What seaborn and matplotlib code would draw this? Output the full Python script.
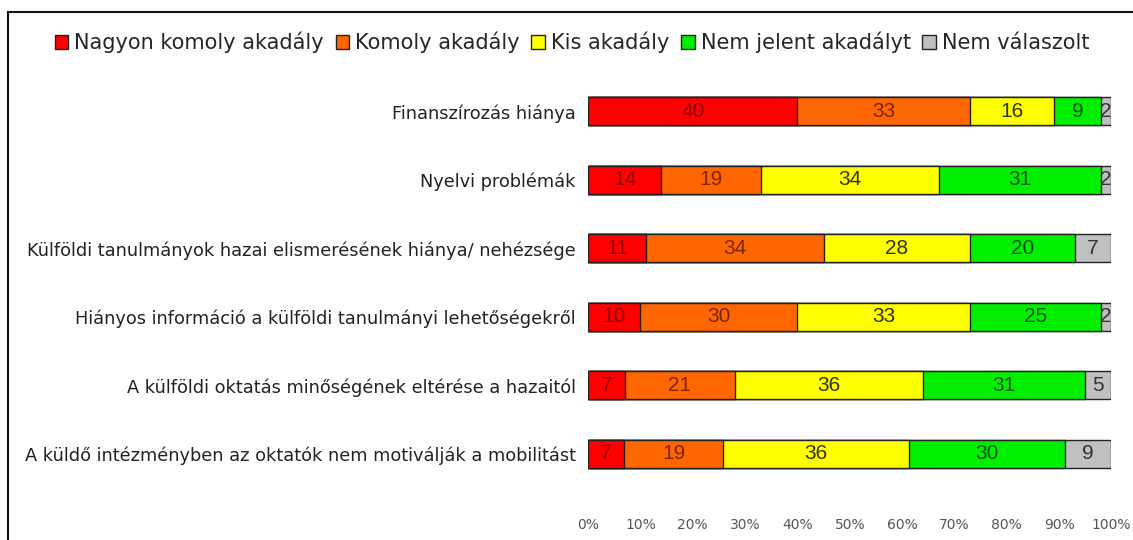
import numpy as np
import pandas as pd
import matplotlib
matplotlib.use('Agg')
import matplotlib.pyplot as plt
from matplotlib.patches import Rectangle, Patch
import seaborn as sns

# akadályok (top to bottom)
categories = ['Finanszírozás hiánya',
              'Nyelvi problémák',
              'Külföldi tanulmányok hazai elismerésének hiánya/ nehézsége',
              'Hiányos információ a külföldi tanulmányi lehetőségekről',
              'A külföldi oktatás minőségének eltérése a hazaitól',
              'A küldő intézményben az oktatók nem motiválják a mobilitást']
series = ['Nagyon komoly akadály', 'Komoly akadály', 'Kis akadály',
          'Nem jelent akadályt', 'Nem válaszolt']
nagyon_komoly = [40, 14, 11, 10, 7, 7]
komoly = [33, 19, 34, 30, 21, 19]
kis = [16, 34, 28, 33, 36, 36]
nem_jelent = [9, 31, 20, 25, 31, 30]
nem_valaszolt = [2, 2, 7, 2, 5, 9]
xticks = [0, 10, 20, 30, 40, 50, 60, 70, 80, 90, 100]

colors = ['#FF0000', '#FF6600', '#FFFF00', '#00EE00', '#C0C0C0']
text_colors = ['#8B0000', '#7A2600', '#333300', '#005500', '#333333']

sns.set_theme(style='white')
plt.rcParams['font.family'] = ['DejaVu Sans']

df = pd.DataFrame(dict(zip(series, [nagyon_komoly, komoly, kis, nem_jelent, nem_valaszolt])),
                  index=categories)
pct = df.div(df.sum(axis=1), axis=0) * 100
cum = pct.cumsum(axis=1)

fig = plt.figure(figsize=(11.33, 5.4), dpi=100)
ax = fig.add_axes([0.519, 0.062, 0.462, 0.795])

# draw cumulative bars from longest to shortest so they stack
for i in range(len(series) - 1, -1, -1):
    sns.barplot(x=cum.iloc[:, i].values, y=categories, orient='h', color=colors[i],
                saturation=1, width=0.41, edgecolor='#222222', linewidth=1.0, ax=ax)

# value labels
for r, cat in enumerate(categories):
    for i, s in enumerate(series):
        v = df.loc[cat, s]
        mid = cum.loc[cat, s] - pct.loc[cat, s] / 2
        ax.text(mid, r, str(v), ha='center', va='center', fontsize=15,
                family='Liberation Sans', color=text_colors[i])

ax.set_xlim(0, 100)
ax.set_ylim(5.77, -0.5)
ax.set_xticks(xticks)
ax.set_xticklabels([f'{t}%' for t in xticks], fontsize=10, color='#555555')
ax.tick_params(axis='x', length=0, pad=8)
ax.tick_params(axis='y', length=0, pad=9, labelsize=12.8, labelcolor='#222222')
ax.set_xlabel('')
ax.set_ylabel('')
for sp in ax.spines.values():
    sp.set_visible(False)

handles = [Patch(facecolor=c, edgecolor='#222222', linewidth=1.0) for c in colors]
fig.legend(handles, series, loc='center', bbox_to_anchor=(0.505, 0.922), ncol=5,
           frameon=False, fontsize=15, handlelength=0.65, handleheight=0.65,
           handletextpad=0.3, columnspacing=0.55, borderaxespad=0)

# outer frame (cropped on the right and bottom)
fig.patches.append(Rectangle((8 / 1133, -0.1), 1.2, 1.1 - 12 / 540, transform=fig.transFigure,
                             fill=False, edgecolor='#111111', linewidth=1.5))

fig.savefig('out.png', dpi=100)
